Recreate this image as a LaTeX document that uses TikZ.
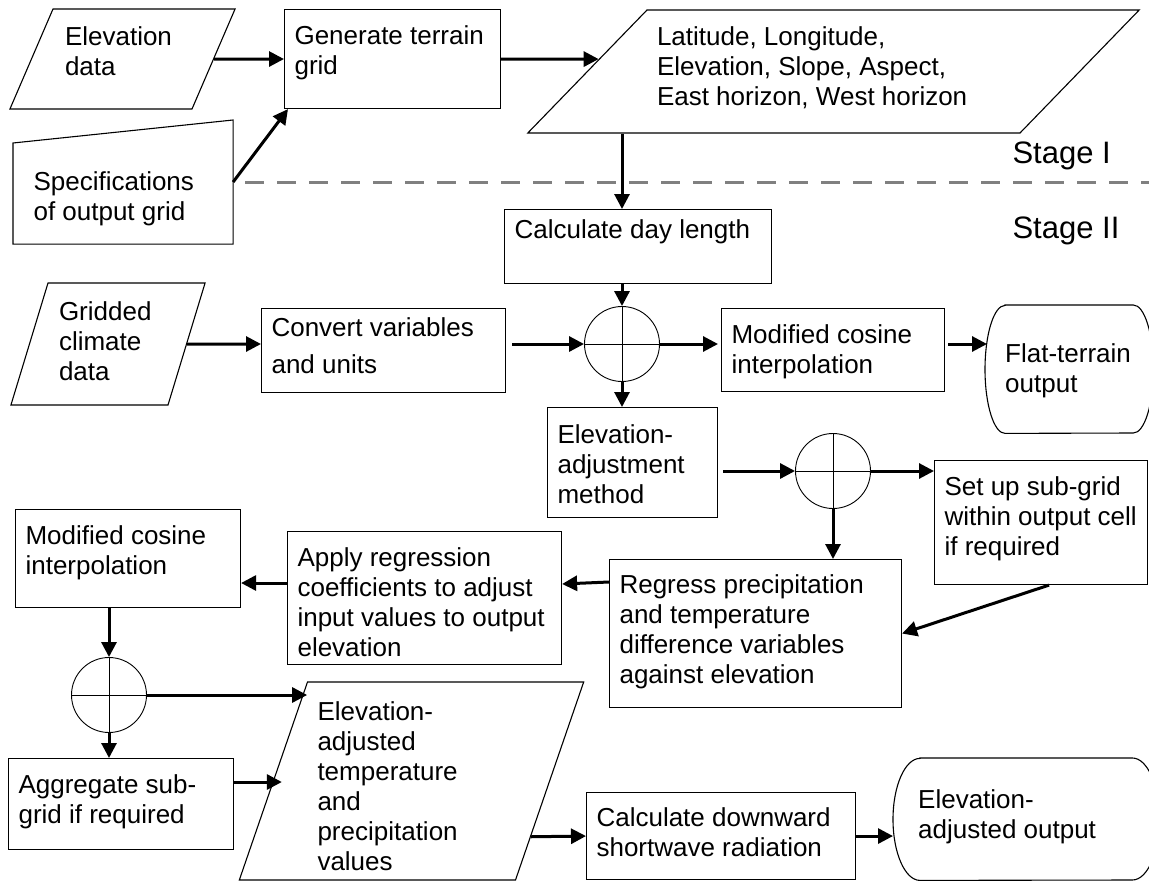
\documentclass[tikz,border=0pt]{standalone}
\usepackage{fontspec}
\setmainfont{Liberation Sans}
\usetikzlibrary{arrows.meta,shapes.geometric,calc}
\definecolor{stagegray}{RGB}{128,128,128}
\newcommand{\celltext}[4]{\parbox[c][#2pt][t]{#1pt}{\begin{tabular}[t]{@{}l@{}}\rule{0pt}{#3pt}#4\end{tabular}}}
\begin{document}
\begin{tikzpicture}[x=1pt,y=-1pt,font=\fontsize{26}{30}\selectfont,
  proc/.style={rectangle, draw, line width=1.1pt, anchor=north west, inner xsep=10pt, inner ysep=0pt},
  data/.style={trapezium, draw, line width=1.1pt, inner ysep=0pt},
  term/.style={rectangle, anchor=north west, inner ysep=0pt},
  mergept/.style={circle, draw, line width=0.9pt, minimum size=75pt, inner sep=0pt,
    path picture={\draw[line width=0.9pt] (path picture bounding box.north) -- (path picture bounding box.south)
      (path picture bounding box.west) -- (path picture bounding box.east);}},
  flow/.style={line width=3pt, -{Triangle[length=15pt,width=15pt]}},
  stage/.style={anchor=base west, font=\fontsize{31}{36}\selectfont}]
\useasboundingbox (0,0) rectangle (1149,881);

\node[data, trapezium left angle=66.7, trapezium right angle=113.3, inner xsep=12pt] (ElevData) at (122.5,59) {\celltext{115}{100}{36}{Elevation\\data}};
\node[proc] (GenGrid) at (284,9) {\celltext{196}{99}{35}{Generate terrain\\grid}};
\node[data, trapezium left angle=45.9, trapezium right angle=134.1, inner xsep=10pt] (TerrainVars) at (833.5,71.5) {\celltext{353}{123}{35}{Latitude, Longitude,\\Elevation, Slope, Aspect,\\East horizon, West horizon}};
\node[proc, draw=none, inner xsep=20pt] (Specs) at (13,120) {\celltext{179}{123}{70}{Specifications\\of output grid}};
\draw[line width=1.1pt] (Specs.south west) -- (Specs.south east) -- (Specs.north east) -- ([yshift=-23pt]Specs.north west) -- cycle;

\node[stage] (StageOne) at (1009,163) {Stage I};
\node[stage] (StageTwo) at (1009,238) {Stage II};

\node[proc] (DayLength) at (504,209) {\celltext{247}{74}{29}{Calculate day length}};
\node[data, trapezium left angle=73.1, trapezium right angle=106.9, inner xsep=11pt] (ClimateData) at (108,344) {\celltext{98}{122}{37}{Gridded\\climate\\data}};
\node[proc] (ConvertVars) at (261,308) {\celltext{224}{84}{28}{Convert variables\\[7pt]and units}};
\node[mergept] (MergeA) at (622,344) {};
\node[proc] (FlatInterp) at (721,308) {\celltext{203}{83}{35}{Modified cosine\\interpolation}};
\node[term, inner xsep=20pt] (FlatOut) at (985,305) {\celltext{128}{128}{57}{Flat-terrain\\output}};
\draw[line width=1.1pt] ([xshift=20pt]FlatOut.north west) -- ([xshift=-20pt]FlatOut.north east)
  arc[start angle=90, end angle=-90, x radius=20pt, y radius=64pt] -- ([xshift=20pt]FlatOut.south west)
  arc[start angle=270, end angle=90, x radius=20pt, y radius=64pt] -- cycle;

\node[proc] (AdjMethod) at (547,407) {\celltext{150}{110}{36}{Elevation-\\adjustment\\method}};
\node[mergept] (MergeB) at (833,471) {};
\node[proc] (SubGrid) at (934,460) {\celltext{193}{124}{35}{Set up sub-grid\\within output cell\\if required}};
\node[proc] (Regress) at (609,559) {\celltext{272}{148}{34}{Regress precipitation\\and temperature\\difference variables\\against elevation}};
\node[proc] (ApplyCoef) at (287,531) {\celltext{254}{133}{35}{Apply regression\\coefficients to adjust\\input values to output\\elevation}};
\node[proc] (AdjInterp) at (15,509) {\celltext{205}{98}{35}{Modified cosine\\interpolation}};
\node[mergept] (MergeC) at (109,695) {};
\node[proc] (Aggregate) at (8,758) {\celltext{205}{91}{35}{Aggregate sub-\\grid if required}};
\node[data, trapezium left angle=71.0, trapezium right angle=109.0, inner xsep=10pt] (AdjValues) at (411.5,781) {\celltext{188}{198}{38}{Elevation-\\adjusted\\temperature\\and\\precipitation\\values}};
\node[proc] (Radiation) at (586,792) {\celltext{249}{87}{34}{Calculate downward\\shortwave radiation}};
\node[term, inner xsep=25pt] (AdjOut) at (893,758) {\celltext{216}{122}{50}{Elevation-\\adjusted output}};
\draw[line width=1.1pt] ([xshift=27pt]AdjOut.north west) -- ([xshift=-27pt]AdjOut.north east)
  arc[start angle=90, end angle=-90, x radius=27pt, y radius=61pt] -- ([xshift=27pt]AdjOut.south west)
  arc[start angle=270, end angle=90, x radius=27pt, y radius=61pt] -- cycle;

\draw[stagegray, line width=3pt, dash pattern=on 19pt off 13pt] ([xshift=12pt]Specs.east) -- ++(905,0);

\draw[flow] (ElevData) -- (GenGrid);
\draw[flow] (Specs.east) -- ([xshift=4pt]GenGrid.south west);
\draw[flow] (GenGrid.east) -- ($(TerrainVars.bottom left corner)!0.6!(TerrainVars.top left corner)$);
\draw[flow] (TerrainVars.south -| MergeA) -- (DayLength.north -| MergeA);
\draw[flow] (DayLength.south -| MergeA) -- (MergeA);
\draw[flow] (ClimateData) -- (ClimateData -| ConvertVars.west);
\draw[flow] ([xshift=6pt]ConvertVars.east |- MergeA) -- (MergeA);
\draw[flow] (MergeA) -- ([xshift=-3pt]MergeA -| FlatInterp.west);
\draw[flow] ([xshift=3pt]FlatInterp.east |- MergeA) -- ([xshift=2pt]MergeA -| FlatOut.west);
\draw[flow] (MergeA) -- (MergeA |- AdjMethod.north);
\draw[flow] ([xshift=5pt]AdjMethod.east |- MergeB) -- (MergeB);
\draw[flow] (MergeB) -- (MergeB -| SubGrid.west);
\draw[flow] (MergeB) -- (MergeB |- Regress.north);
\draw[flow] ([xshift=8pt]SubGrid.south) -- (Regress.east);
\draw[flow] ([yshift=-23pt]Regress.north west) -- ([yshift=-53pt]ApplyCoef.north east);
\coordinate (ApplyOut) at ([yshift=-52pt]ApplyCoef.north west);
\draw[flow] (ApplyOut) -- (ApplyOut -| AdjInterp.east);
\draw[flow] (AdjInterp.south -| MergeC) -- (MergeC);
\draw[flow] (MergeC) -- (MergeC -| AdjValues.top left corner);
\draw[flow] (MergeC) -- (MergeC |- Aggregate.north);
\coordinate (AggOut) at ([yshift=-24pt]Aggregate.north east);
\draw[flow] (AggOut) -- ([xshift=9pt]AggOut -| AdjValues.left side);
\draw[flow] ($(AdjValues.bottom right corner)!0.22!(AdjValues.top right corner)$) -- (Radiation.west);
\draw[flow] (Radiation.east) -- (Radiation.east -| AdjOut.west);
\end{tikzpicture}
\end{document}
